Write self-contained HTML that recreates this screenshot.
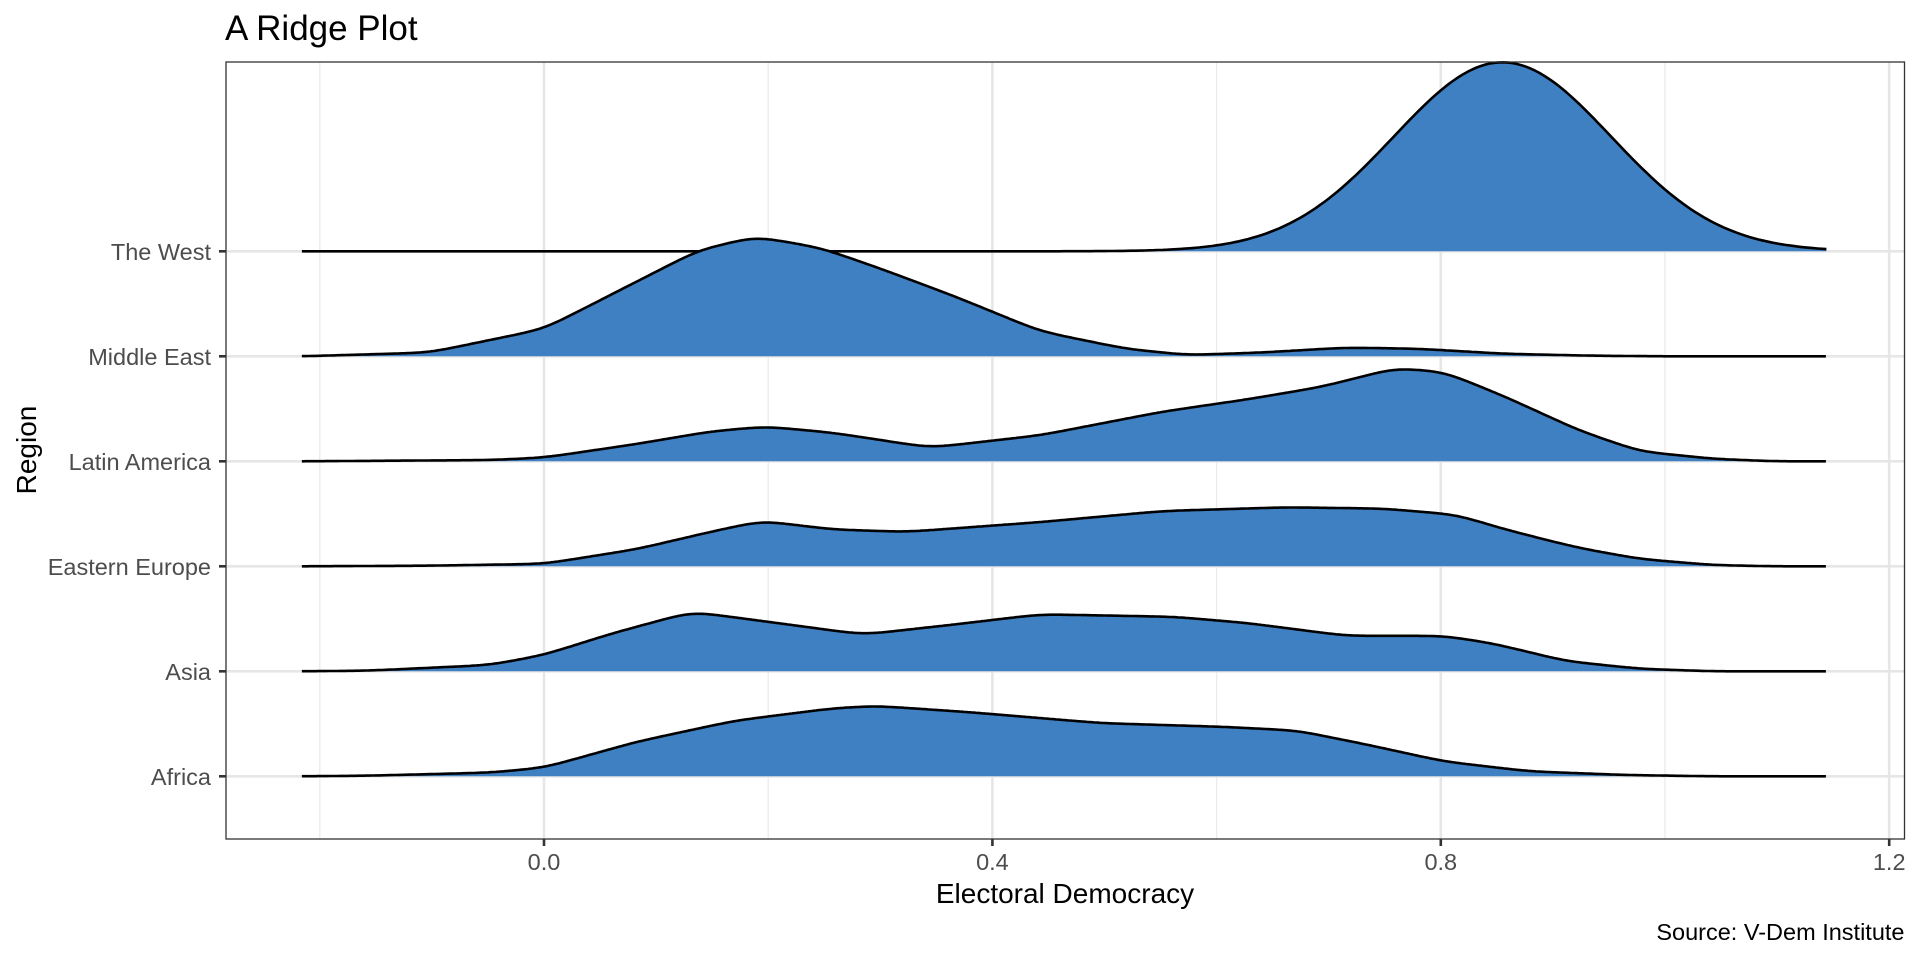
<!DOCTYPE html>
<html><head><meta charset="utf-8"><style>
html,body{margin:0;padding:0;background:#fff;}
svg{display:block;font-family:"Liberation Sans",Arial,sans-serif;}
</style></head><body>
<svg id="s" width="1920" height="960" viewBox="0 0 1920 960" xmlns="http://www.w3.org/2000/svg">
<rect width="1920" height="960" fill="#fff"/>
<g id="grid"></g>
<g id="ridges"></g>
<rect x="226" y="62" width="1678.5" height="777" fill="none" stroke="#333" stroke-width="1.3"/>
<g id="axes" fill="#4d4d4d" font-size="23.5"></g>
<text x="225" y="40" font-size="35" fill="#000">A Ridge Plot</text>
<text x="1065" y="903" font-size="28" text-anchor="middle" fill="#000">Electoral Democracy</text>
<text transform="translate(36,450) rotate(-90)" font-size="28" text-anchor="middle" fill="#000">Region</text>
<text x="1904.5" y="940" font-size="23.5" text-anchor="end" fill="#000">Source: V-Dem Institute</text>
</svg>
<script>
var NS="http://www.w3.org/2000/svg";
function X(v){return 544+1121*v;}
function el(p,t,a,txt){var e=document.createElementNS(NS,t);for(var k in a)e.setAttribute(k,a[k]);if(txt!==undefined)e.textContent=txt;p.appendChild(e);return e;}
var grid=document.getElementById('grid'),axes=document.getElementById('axes'),rid=document.getElementById('ridges');
var base=[776.3,671.3,566.3,461.3,356.3,251.3];
var names=["Africa","Asia","Eastern Europe","Latin America","Middle East","The West"];
[-0.2,0.2,0.6,1.0].forEach(function(v){el(grid,'line',{x1:X(v),x2:X(v),y1:62,y2:839,stroke:'#ebebeb','stroke-width':1.3});});
[0,0.4,0.8,1.2].forEach(function(v){el(grid,'line',{x1:X(v),x2:X(v),y1:62,y2:839,stroke:'#e6e6e6','stroke-width':2.6});
 el(axes,'line',{x1:X(v),x2:X(v),y1:839,y2:846,stroke:'#333','stroke-width':2.6});
 el(axes,'text',{x:X(v),y:870,'text-anchor':'middle'},v.toFixed(1));});
base.forEach(function(b,i){el(grid,'line',{x1:226,x2:1904,y1:b,y2:b,stroke:'#e6e6e6','stroke-width':2.6});
 el(axes,'line',{x1:219,x2:226,y1:b,y2:b,stroke:'#333','stroke-width':2.6});
 el(axes,'text',{x:211,y:b+8.5,'text-anchor':'end'},names[i]);});
function dx(d){return (d-444)/916.7;}
var S=1.2245;
var pts={
"Africa":[[246,0],[300,0.5],[400,3],[444,7],[520,28],[600,45],[680,55],[715,57],[790,52],[900,43],[1000,40],[1060,37],[1120,25],[1180,12],[1250,4],[1330,1],[1400,0],[1493,0]],
"Asia":[[246,0],[300,0.5],[400,5],[444,13],[500,30],[565,47],[620,40],[705,29],[780,37],[850,45],[960,43],[1020,38],[1100,28],[1180,28],[1220,22],[1280,8],[1340,2],[1400,0],[1493,0]],
"Eastern Europe":[[246,0],[350,0.5],[444,2],[520,14],[580,28],[622,37],[680,30],[740,28],[850,36],[950,45],[1050,48],[1130,47],[1190,42],[1230,30],[1290,15],[1340,6],[1400,1],[1450,0],[1493,0]],
"Latin America":[[246,0],[400,1],[444,3],[520,14],[580,24],[625,28],[680,23],[760,11],[850,21],[950,40],[1020,50],[1080,60],[1140,75],[1180,72],[1230,52],[1290,25],[1340,8],[1400,2],[1450,0],[1493,0]],
"Middle East":[[246,0],[350,3],[444,22],[520,60],[570,85],[617,96],[670,87],[720,70],[780,48],[850,20],[920,6],[970,1],[1030,3],[1100,7],[1160,6],[1230,2],[1300,0.5],[1360,0],[1493,0]]
};
function interp(p,x){for(var i=0;i<p.length-1;i++){if(x<=p[i+1][0]){var t=(x-p[i][0])/(p[i+1][0]-p[i][0]);return p[i][1]+t*(p[i+1][1]-p[i][1]);}}return p[p.length-1][1];}
function smooth(p){
 var x0=p[0][0],x1=p[p.length-1][0],step=2,xs=[],ys=[];
 for(var x=x0;x<=x1+0.01;x+=step){xs.push(x);ys.push(interp(p,x));}
 var sig=14/step,R=Math.ceil(3*sig),out=[];
 for(var i=0;i<xs.length;i++){var s=0,ws=0;for(var k=-R;k<=R;k++){var j=i+k;var y=(j<0||j>=ys.length)?0:ys[j];var w=Math.exp(-0.5*k*k/(sig*sig));s+=w*y;ws+=w;}
  out.push([xs[i],s/ws]);}
 // restore peak heights roughly
 var m1=Math.max.apply(null,ys),m2=Math.max.apply(null,out.map(function(q){return q[1];}));
 var f=m1/m2;out.forEach(function(q){q[1]*=f;});
 return out;}
function draw(b,arr){
 var d="M"+arr[0][0].toFixed(1)+","+b;
 arr.forEach(function(q){d+="L"+q[0].toFixed(1)+","+(b-q[1]).toFixed(1);});
 d+="L"+arr[arr.length-1][0].toFixed(1)+","+b+"Z";
 el(rid,'path',{d:d,fill:'#3f80c2',stroke:'none'});
 var l="M"+arr.map(function(q){return q[0].toFixed(1)+","+(b-q[1]).toFixed(1);}).join("L");
 el(rid,'path',{d:l,fill:'none',stroke:'#000','stroke-width':2.6,'stroke-linejoin':'round'});
}
var w=[];for(var v=-0.216;v<=1.1451;v+=0.004){var h=189*Math.exp(-0.5*Math.pow((v-0.855)/0.097,2));w.push([X(v),h]);}
draw(base[5],w);
for(var i=4;i>=0;i--){var p=pts[names[i]].map(function(q){return [X(dx(q[0])),q[1]*S];});draw(base[i],smooth(p));}
</script>
</body></html>
